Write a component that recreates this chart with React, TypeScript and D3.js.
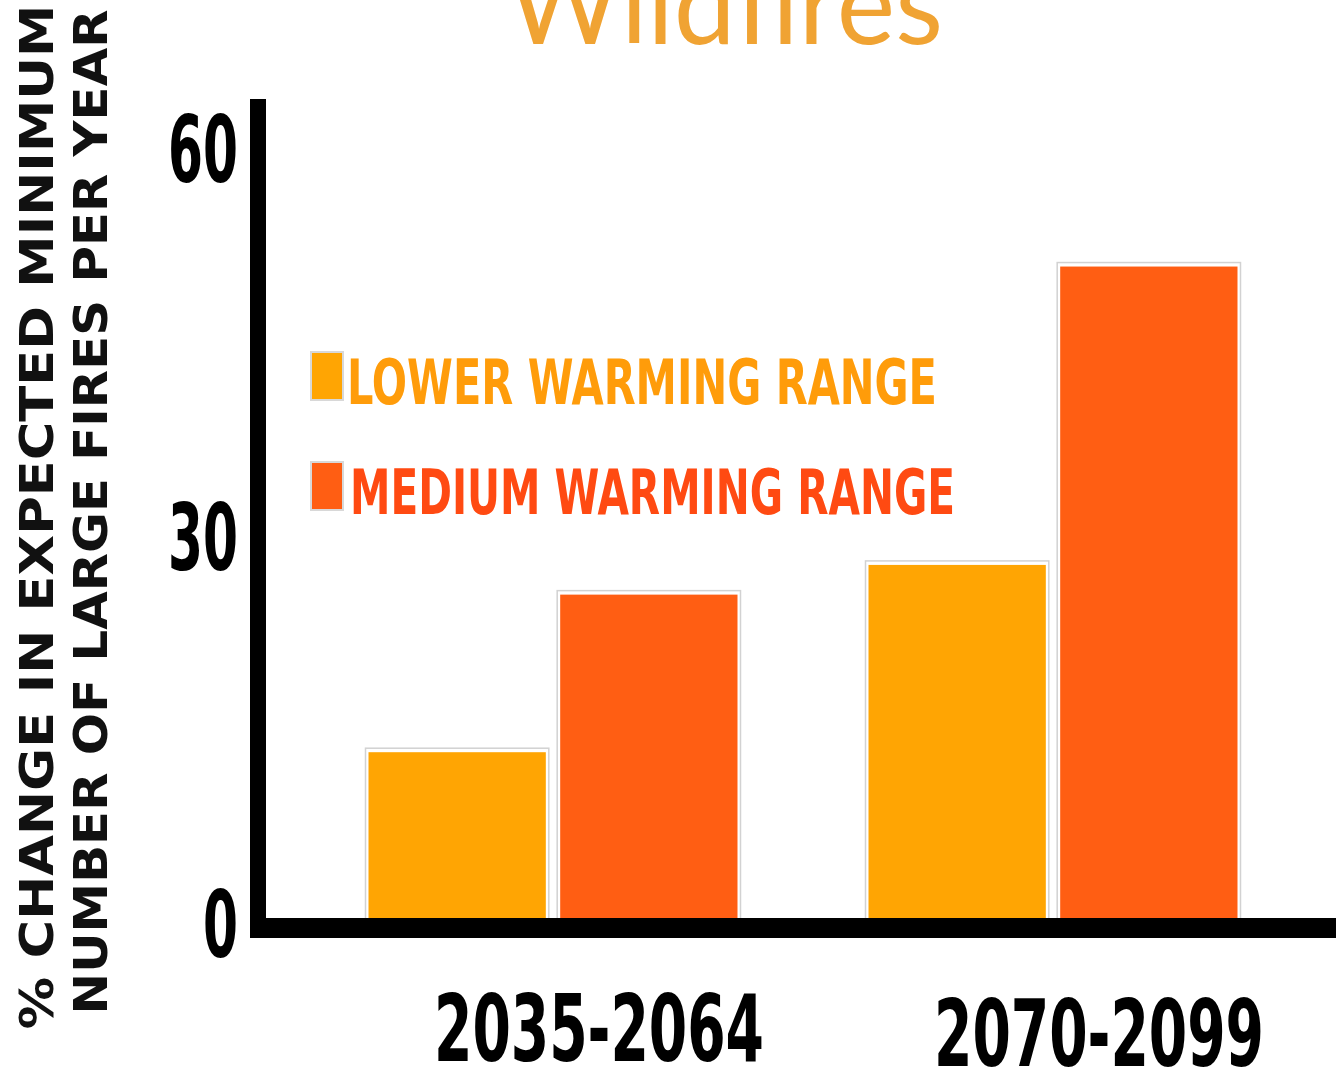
import React from "react";
import * as d3 from "d3";

const categories = ["2035-2064", "2070-2099"];
const seriesNames = ["LOWER WARMING RANGE", "MEDIUM WARMING RANGE"];
const lowerValues = [13.3, 27.8];
const mediumValues = [25.5, 50.9];
const yTicks = [0, 30, 60];
const titleText = "Wildfires";
const yTitleLines = ["% CHANGE IN EXPECTED MINIMUM", "NUMBER OF LARGE FIRES PER YEAR"];

const barColors = ["#FFA503", "#FF5E13"];
const legendColors = ["#FF9C0A", "#FF4A12"];

const W = 1336;
const H = 1071;

export default function App() {
  const x0 = d3.scaleBand<string>().domain(categories).range([303, 1303]).paddingInner(0.262).paddingOuter(0.131);
  const x1 = d3.scaleBand<string>().domain(seriesNames).range([0, x0.bandwidth()]).paddingInner(0.075);
  const y = d3.scaleLinear().domain([0, 60]).range([924, 149]);
  const values = [lowerValues, mediumValues];
  const condensed = "'Liberation Sans Narrow', 'DejaVu Sans Condensed', 'Roboto Condensed', sans-serif";

  return (
    <svg width={W} height={H} style={{ position: "absolute", left: 0, top: 0, background: "#fff" }}>
      <rect x={0} y={0} width={W} height={H} fill="#fff" />
      {/* title */}
      <text x={725} y={44} textAnchor="middle" fontFamily="Lato, 'Open Sans', sans-serif" fontSize={112}
        fill="#F0A333" textLength={436} lengthAdjust="spacingAndGlyphs">{titleText}</text>

      {/* y axis title */}
      {yTitleLines.map((t, i) => (
        <text key={t} transform={`translate(${i === 0 ? 53 : 107},${i === 0 ? 517 : 512}) rotate(-90)`}
          textAnchor="middle" fontFamily="'DejaVu Sans', sans-serif" fontWeight="bold" fontSize={47}
          fill="#111" textLength={i === 0 ? 1025 : 1005} lengthAdjust="spacingAndGlyphs">{t}</text>
      ))}

      {/* bars */}
      {categories.map((c, ci) => (
        <g key={c} transform={`translate(${x0(c)},0)`}>
          {seriesNames.map((s, si) => {
            const v = values[si][ci];
            const bx = x1(s)!;
            const by = y(v);
            return (
              <g key={s}>
                <rect x={bx - 3} y={by - 4} width={x1.bandwidth() + 6} height={y(0) - by + 4}
                  fill="#fff" stroke="#d2d2d2" strokeWidth={1.5} />
                <rect x={bx} y={by} width={x1.bandwidth()} height={y(0) - by} fill={barColors[si]} />
              </g>
            );
          })}
        </g>
      ))}

      {/* axes */}
      <line x1={258} x2={258} y1={99} y2={938} stroke="#000" strokeWidth={16} />
      <line x1={250} x2={W} y1={928} y2={928} stroke="#000" strokeWidth={20} />

      {/* tick labels */}
      {yTicks.map((t) => (
        <text key={t} x={238} y={y(t) + 33} textAnchor="end" fontFamily={condensed} fontWeight="bold"
          fontSize={92} fill="#000" textLength={String(t).length * 35} lengthAdjust="spacingAndGlyphs">{t}</text>
      ))}

      {/* category labels */}
      {categories.map((c, i) => (
        <text key={c} x={x0(c)! + x0.bandwidth() / 2 + 46} y={1061 + i * 5} textAnchor="middle"
          fontFamily={condensed} fontWeight="bold" fontSize={92} fill="#000" textLength={330}
          lengthAdjust="spacingAndGlyphs">{c}</text>
      ))}

      {/* legend */}
      {seriesNames.map((s, i) => (
        <g key={s} transform={`translate(0,${i * 110})`}>
          <rect x={311} y={352} width={32} height={48} fill={barColors[i]} stroke="#d8d8d8" strokeWidth={2} />
          <text x={i === 0 ? 347 : 350} y={404} fontFamily={condensed} fontWeight="bold" fontSize={63}
            fill={legendColors[i]} textLength={i === 0 ? 590 : 605} lengthAdjust="spacingAndGlyphs">{s}</text>
        </g>
      ))}
    </svg>
  );
}
